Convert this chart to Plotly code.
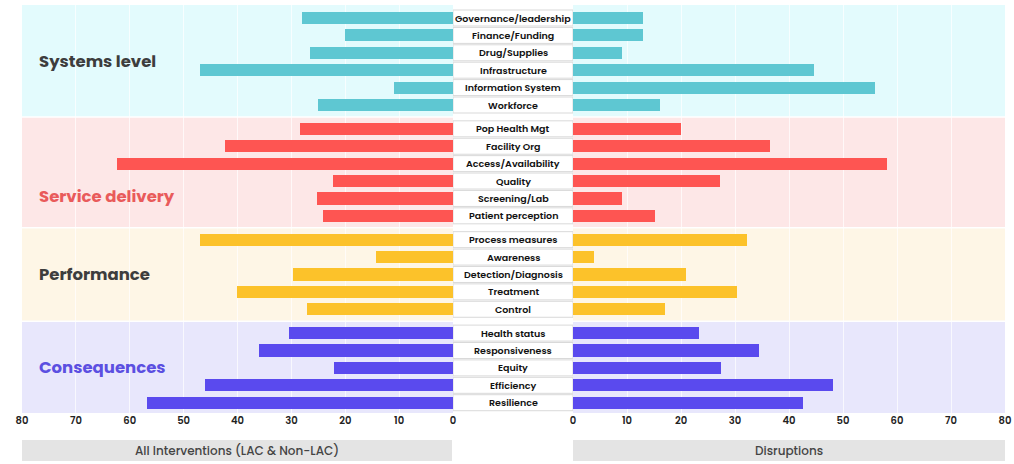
import plotly.graph_objects as go

# ---------------- data ----------------
groups = ["Systems level", "Service delivery", "Performance", "Consequences"]
categories = [
    ["Governance/leadership", "Finance/Funding", "Drug/Supplies", "Infrastructure",
     "Information System", "Workforce"],
    ["Pop Health Mgt", "Facility Org", "Access/Availability", "Quality",
     "Screening/Lab", "Patient perception"],
    ["Process measures", "Awareness", "Detection/Diagnosis", "Treatment", "Control"],
    ["Health status", "Responsiveness", "Equity", "Efficiency", "Resilience"],
]
all_interventions = [
    [28, 20, 26.5, 47, 11, 25],
    [28.4, 42.3, 62.3, 22.3, 25.2, 24.1],
    [47, 14.3, 29.7, 40.1, 27.1],
    [30.4, 36, 22.1, 46, 56.8],
]
disruptions = [
    [13, 13, 9.1, 44.6, 56, 16.2],
    [20, 36.4, 58.2, 27.2, 9.1, 15.2],
    [32.3, 3.9, 21, 30.4, 17],
    [23.4, 34.5, 27.4, 48.2, 42.5],
]
tick_values = [0, 10, 20, 30, 40, 50, 60, 70, 80]
left_title = "All Interventions (LAC & Non-LAC)"
right_title = "Disruptions"

bar_colors = ["#5ec7d2", "#fe5552", "#fcc22a", "#5a4aee"]
band_colors = ["#e3fbfd", "#fde7e7", "#fef6e6", "#e8e7fc"]
label_colors = ["#3d3d3d", "#e95b5b", "#3d3d3d", "#5b4fe1"]

FONT = "Poppins, Inter, Open Sans, sans-serif"
GAP = 0.37

# ---------------- positions ----------------
ys, cats, lv, rv, cols = [], [], [], [], []
group_spans = []
idx = 0
for g, names in enumerate(categories):
    start = idx + g * GAP
    for k, name in enumerate(names):
        ys.append(idx + g * GAP)
        cats.append(name)
        lv.append(all_interventions[g][k])
        rv.append(disruptions[g][k])
        cols.append(bar_colors[g])
        idx += 1
    group_spans.append((start, idx - 1 + g * GAP))

fig = go.Figure()
fig.add_trace(go.Bar(x=lv, y=ys, orientation="h", marker=dict(color=cols, line_width=0),
                     width=0.7, xaxis="x", yaxis="y", hoverinfo="x+text", text=cats,
                     textposition="none", showlegend=False))
fig.add_trace(go.Bar(x=rv, y=ys, orientation="h", marker=dict(color=cols, line_width=0),
                     width=0.7, xaxis="x2", yaxis="y", hoverinfo="x+text", text=cats,
                     textposition="none", showlegend=False))

W, H = 1014, 464
def px(x):
    return x / W
def py(y):
    return (H - y) / H

shapes = []
annotations = []
for g, (a, b) in enumerate(group_spans):
    top = a - (0.74 if g == 0 else 0.64)
    bot = b + 0.64
    for xr in ("x", "x2"):
        shapes.append(dict(type="rect", xref=xr, yref="y", x0=0, x1=80, y0=top, y1=bot,
                           fillcolor=band_colors[g], line_width=0, layer="below"))
    label_y = (a + b) / 2
    if g == 1:
        # label sits lower, beside the shorter bars
        label_y = a + 4 - 0.14
    annotations.append(dict(xref="paper", yref="y", x=px(37), y=label_y,
                            text="<b>%s</b>" % groups[g], showarrow=False,
                            xanchor="left", yanchor="middle",
                            font=dict(family=FONT, size=16.5, color=label_colors[g])))

for y, name in zip(ys, cats):
    shapes.append(dict(type="rect", xref="x3", yref="y", x0=0, x1=1, y0=y - 0.46, y1=y + 0.46,
                       fillcolor="white", line=dict(color="#d9d9d9", width=1), layer="above"))
    annotations.append(dict(xref="x3", yref="y", x=0.5, y=y, text=name, showarrow=False,
                            xanchor="center", yanchor="middle",
                            font=dict(family=FONT, size=9.5, color="#111111", weight=600)))

# bottom title boxes
for (x0, x1, t) in ((22, 452, left_title), (573, 1005, right_title)):
    shapes.append(dict(type="rect", xref="paper", yref="paper", x0=px(x0), x1=px(x1),
                       y0=py(461), y1=py(440), fillcolor="#e4e4e4", line_width=0))
    annotations.append(dict(xref="paper", yref="paper", x=px((x0 + x1) / 2), y=py(450.5),
                            text=t, showarrow=False, xanchor="center", yanchor="middle",
                            font=dict(family=FONT, size=12, color="#444444", weight=500)))

row_top_px, row_step_px = 18, 17.4
y_top = (5 - row_top_px) / row_step_px
y_bot = (413 - row_top_px) / row_step_px

axis_common = dict(tickvals=tick_values, showgrid=True, gridcolor="rgba(255,255,255,0.7)",
                   gridwidth=1, zeroline=False, showline=False, ticks="", automargin=False,
                   tickfont=dict(family=FONT, size=10, color="#222222", weight=600),
                   fixedrange=True)

fig.update_layout(
    width=W, height=H, margin=dict(l=0, r=0, t=0, b=0, pad=0),
    paper_bgcolor="white", plot_bgcolor="rgba(0,0,0,0)",
    bargap=0, showlegend=False, autosize=False,
    font=dict(family=FONT),
    xaxis=dict(domain=[px(22), px(453)], range=[80, 0], anchor="y", **axis_common),
    xaxis2=dict(domain=[px(573), px(1005)], range=[0, 80], anchor="y", **axis_common),
    xaxis3=dict(domain=[px(453), px(573)], range=[0, 1], anchor="y", visible=False,
                automargin=False),
    yaxis=dict(domain=[py(413), py(5)], range=[y_bot, y_top], visible=False,
               fixedrange=True, automargin=False),
    shapes=shapes, annotations=annotations,
)

fig.write_html(
    "out.html",
    config={"responsive": False, "displayModeBar": False},
    post_script="document.body.style.margin='0';document.body.style.padding='0';"
                "document.body.style.overflow='hidden';"
                "document.documentElement.style.overflow='hidden';",
)
